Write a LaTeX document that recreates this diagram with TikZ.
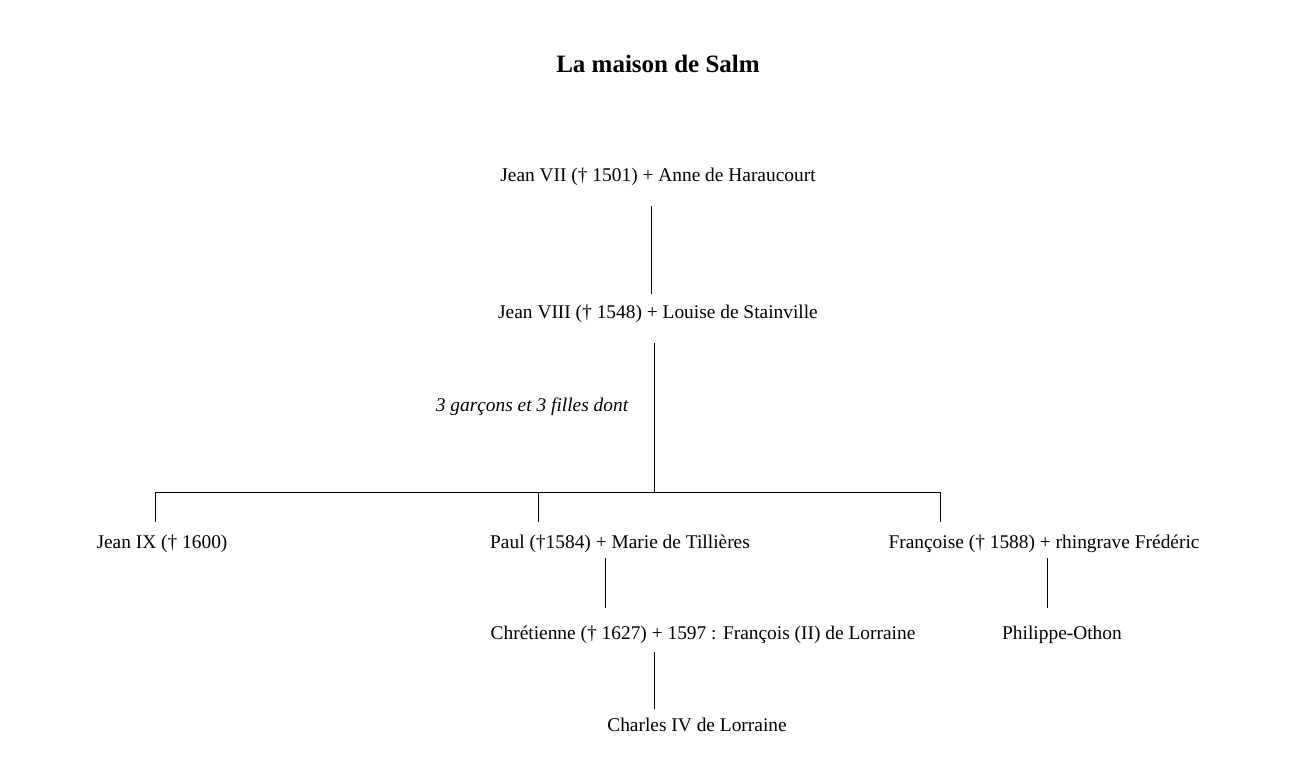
\documentclass[tikz,border=0pt]{standalone}
\usepackage{fontspec}
\setmainfont{Liberation Serif}
\usetikzlibrary{positioning}

\begin{document}
\begin{tikzpicture}[x=1pt,y=-1pt,
    person/.style={inner sep=0pt,text height=17.5pt,text depth=4.5pt,
      font=\fontsize{19.4}{22}\selectfont},
    link/.style={line width=1pt}]
  \def\bary{492}
  \def\genA{175}
  \def\genB{312}
  \def\genC{542}
  \def\genD{633}
  \def\genE{725}

  \useasboundingbox (0,0) rectangle (1300,760);

  \node[person,font=\fontsize{25}{28}\selectfont\bfseries] (title) at (658,66)
      {La maison de Salm};

  \node[person] (jean7) at (658,\genA) {Jean VII († 1501) + Anne de Haraucourt};
  \node[person] (jean8) at (658,\genB) {Jean VIII († 1548) + Louise de Stainville};
  \node[person,font=\fontsize{19.4}{22}\selectfont\itshape] (note) at (532,405)
      {3 garçons et 3 filles dont};

  \node[person] (jean9) at (162,\genC) {Jean IX († 1600)};
  \node[person] (paul) at (620,\genC) {Paul (†1584) + Marie de Tillières};
  \node[person] (francoise) at (1044,\genC) {Françoise († 1588) + rhingrave Frédéric};

  \node[person] (chretienne) at (703,\genD)
      {Chrétienne († 1627) + 1597 : François (II) de Lorraine};
  \node[person] (philippe) at (1062,\genD) {Philippe-Othon};

  \node[person] (charles) at (697,\genE) {Charles IV de Lorraine};

  % descent lines
  \draw[link,shorten <=20pt,shorten >=7pt]
      ([xshift=-7pt]jean7.south) -- ([xshift=-7pt]jean8.north);

  \coordinate (bar) at (654,\bary);
  \draw[link,shorten <=20pt] ([xshift=-4pt]jean8.south) -- (bar);

  \draw[link] ([xshift=-7pt]jean9.north |- bar) -- ([xshift=-104pt]francoise.north |- bar);
  \foreach \child/\dx in {jean9/-7,paul/-82,francoise/-104}
  {
    \draw[link,shorten >=9pt]
        ([xshift=\dx pt]\child.north |- bar) -- ([xshift=\dx pt]\child.north);
  }

  \draw[link,shorten <=5pt,shorten >=14pt]
      ([xshift=-15pt]paul.south) -- ([xshift=-98pt]chretienne.north);
  \draw[link,shorten <=5pt,shorten >=14pt]
      ([xshift=3pt]francoise.south) -- ([xshift=-15pt]philippe.north);
  \draw[link,shorten <=8pt,shorten >=5pt]
      ([xshift=-49pt]chretienne.south) -- ([xshift=-43pt]charles.north);
\end{tikzpicture}
\end{document}
